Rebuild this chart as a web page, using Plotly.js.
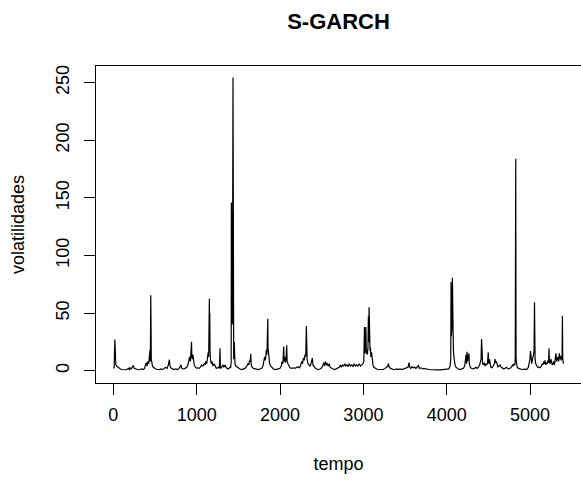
<!DOCTYPE html>
<html>
<head>
<meta charset="utf-8">
<script src="https://cdn.plot.ly/plotly-3.0.1.min.js"></script>
<style>
  html, body { margin: 0; padding: 0; background: #ffffff; }
  #chart { width: 581px; height: 483px; }
</style>
</head>
<body>
<div id="chart"></div>
<script>
// tempo (índice da observação) e volatilidades estimadas
const tempo = [
  1,10,18,22,26,30,40,55,70,85,100,120,140,160,180,190,200,215,230,240,250,265,280,300,320,340,360,375,385,395,405,415,425,430,436,440,444,447,449,451,453,455,460,
  470,480,495,510,530,550,570,590,610,630,645,660,672,680,695,710,730,750,770,790,805,812,820,840,860,880,895,905,915,925,932,938,942,948,955,962,970,985,1000,1015,1030,1045,1060,1075,1090,1100,1110,1120,1130,1138,1144,1148,1152,1155,1157,1160,1165,
  1175,1185,1195,1210,1222,1235,1250,1262,1272,1280,1284,1295,1305,1315,1325,1340,1350,1362,1375,1390,1400,1408,1414,1416,1420,1424,1428,1432,1434,1436,1438,1440,1444,1450,1453,
  1460,1470,1485,1500,1520,1540,1560,1580,1600,1615,1625,1635,1642,1648,1655,1665,1680,1700,1720,1740,1760,1780,1795,1805,1815,1825,1835,1843,1850,1853,1856,1860,1866,1875,
  1890,1905,1920,1940,1960,1980,2000,2015,2025,2035,2044,2048,2055,2065,2072,2080,2085,2095,2105,2120,2140,2160,2180,2200,2215,2230,2245,2260,2270,2280,2290,2300,2308,2316,2320,2325,2335,
  2345,2360,2375,2388,2395,2410,2425,2440,2460,2480,2500,2515,2525,2535,2545,2555,2565,2578,2590,2600,2615,2635,2655,2675,2690,2710,2725,2735,2750,2765,2780,2790,2805,2818,2830,2845,2860,2875,2890,2905,2920,2935,2950,2965,2980,2995,
  3005,3010,3013,3018,3022,3026,3030,3035,3040,3048,3055,3060,3064,3068,3072,3076,3080,3085,3090,3098,3105,3115,3125,
  3140,3160,3180,3200,3220,3240,3260,3280,3292,3300,3310,3325,3340,3360,3380,3400,3420,3440,3460,3480,3500,3520,3535,3548,3556,3570,3585,3600,3615,3630,3645,3660,3672,3690,3710,3730,3750,3770,3790,3810,3830,3850,3870,3890,3910,3930,3950,3970,3990,4010,4025,4040,
  4048,4052,4056,4060,4064,4068,4072,4076,4080,4086,4092,4100,4110,
  4125,4140,4160,4180,4200,4215,4225,4232,4238,4244,4250,4258,4266,4272,4282,4295,4310,4330,4350,4365,4380,4395,4405,4412,4418,4422,4430,4440,4450,4460,4470,4480,4490,4498,4504,4512,4520,4530,4545,4560,4572,4580,4588,4596,4605,4615,4625,4640,4655,4670,4685,4700,4715,4730,4745,4760,4775,4790,4800,4810,4818,4822,4826,4828,4830,4832,4836,
  4845,4860,4875,4890,4905,4920,4935,4950,4965,4980,4990,4998,5005,5010,5015,5020,5030,5040,5048,5053,5056,5060,5068,5078,5090,5105,5120,5135,5145,5155,5165,5172,5180,5188,5196,5205,5215,5222,5227,5232,5240,5250,5258,5266,5275,5285,5292,5300,5311,5318,5325,5335,5343,5351,5358,5365,5372,5378,5384,5388,5392,5396,5400
];
const volatilidades = [
  2,3,27,6,12,5,4,3,2,1.5,1,0.8,1.2,0.8,2,1,2.5,1.5,3.5,4.5,2,1.5,1,0.8,1,1.5,1,2,5,7,4,8,6,12,9,18,8,33,65.5,20,33,10,6,
  4,3,2,1.5,1,0.8,1.5,1,2,3,2,5,9.5,4,2,1.5,1,1.5,1,2,3.5,5,2,1.5,2,3,5,9,12,8,18,25,12,10,14,8,5,3,2,2.5,2,3,5,4,6,5,8,6,10,16,12,30,62.5,25,50,18,10,
  6,8,4,6,3,2,2.5,3,2,19.5,3,2,4,5,3,5,3,2,1.5,2,3,2.5,8,146,60,146,40,146,90,254.5,146,20,10,25,8,
  6,4,3,2,1.5,1,1.5,2,4,6,5,9,8,14.6,5,3,2,1.5,1,1,1.5,2,4,8,12,9,18,14,28,45,20,15,10,6,
  4,2.5,1.5,1,1,1.5,2,4,8,6,21,8,12,7,10,22,8,6,4,2.5,2,2.5,2,2.5,3.5,2.5,4,8,6,11,9,14,12,38.8,15,10,6,
  5,4,7,11,5,3,2,1.5,1,1.5,2.5,5,7,4,8,5,6,4,6,3,2,1.5,1,1.5,2,3,5,3,5,4,6,4,5,3.5,6,4,5,3.5,6,4,5,4,6,4,5,6,
  8,20,38,15,36,20,38,15,18,14,20,47,25,55,30,47,17,20,12,16,8,5,3,
  2,1.5,1,1,1.5,1,2,3,4,6,3,2,1.5,1,1,1.5,1,1.5,1,1.5,2,2.5,3,7,3,2,3.5,2.5,3,2,3,4.5,2,2.5,1.5,2,1.5,1,1,0.8,1,0.8,0.7,1,0.8,0.7,0.8,1,0.8,1,1.5,4,
  10,77,30,77,40,80.7,45,78,18,12,8,5,3,
  2,1.5,1,1.5,2,4,8,14,6,16.5,8,12,15,6,3,2,1.5,2,3,2,3,5,7,10,27.5,8,6,5,7,4,6,5,7,16,6,10,5,3,2.5,4,6,10,7,8,5,3,4,5,3,2,1.5,2,3,2,1.5,2,3,5,4,6,5,10,79,184,79,10,5,
  3,2,1.5,1,1,1,1.5,1,1.5,3,6,10,17,8,12,6,10,14,17,59.4,17,10,6,4,3,3,2.5,4,6,5,8,6,9,5,7,6,9,7,19.4,8,6,10,7,5,6,8,5,10,15,8,10,12,8,15,10,13,9,12,10,47.7,10,8,6
];
const xTicks = [0, 1000, 2000, 3000, 4000, 5000];
const yTicks = [0, 50, 100, 150, 200, 250];
const tituloGrafico = 'S-GARCH';
const tituloX = 'tempo';
const tituloY = 'volatilidades';

if (tempo.length !== volatilidades.length) {
  console.error('length mismatch', tempo.length, volatilidades.length);
}

const FONT = 'Arial, "Liberation Sans", sans-serif';

const trace = {
  type: 'scatter',
  mode: 'lines',
  x: tempo,
  y: volatilidades,
  line: { color: '#000000', width: 1.2 },
  hoverinfo: 'x+y',
  showlegend: false
};

const layout = {
  width: 581,
  height: 483,
  margin: { l: 96, r: 0, t: 66, b: 100, pad: 0 },
  paper_bgcolor: '#ffffff',
  plot_bgcolor: '#ffffff',
  font: { family: FONT, size: 18, color: '#000000' },
  title: {
    text: '<b>' + tituloGrafico + '</b>',
    font: { family: FONT, size: 22, color: '#000000' },
    xref: 'paper', x: 0.5, xanchor: 'center',
    yref: 'container', y: 1 - 21 / 483, yanchor: 'middle'
  },
  xaxis: {
    range: [-208, 5611],
    tickmode: 'array',
    tickvals: xTicks,
    ticktext: xTicks.map(String),
    ticks: 'outside', ticklen: 11, tickwidth: 1, tickcolor: '#000000',
    ticklabelstandoff: 4,
    showline: true, mirror: true, linecolor: '#000000', linewidth: 1,
    showgrid: false, zeroline: false,
    tickfont: { family: FONT, size: 18, color: '#000000' },
    automargin: false,
    title: { text: tituloX, font: { family: FONT, size: 18, color: '#000000' }, standoff: 33 }
  },
  yaxis: {
    range: [-10.7, 264.5],
    tickmode: 'array',
    tickvals: yTicks,
    ticktext: yTicks.map(String),
    tickangle: -90,
    ticks: 'outside', ticklen: 11, tickwidth: 1, tickcolor: '#000000',
    ticklabelstandoff: 8,
    showline: true, mirror: true, linecolor: '#000000', linewidth: 1,
    showgrid: false, zeroline: false,
    tickfont: { family: FONT, size: 18, color: '#000000' },
    automargin: false,
    title: { text: tituloY, font: { family: FONT, size: 18, color: '#000000' }, standoff: 23 }
  }
};

Plotly.newPlot('chart', [trace], layout, { displayModeBar: false, staticPlot: true });
</script>
</body>
</html>
